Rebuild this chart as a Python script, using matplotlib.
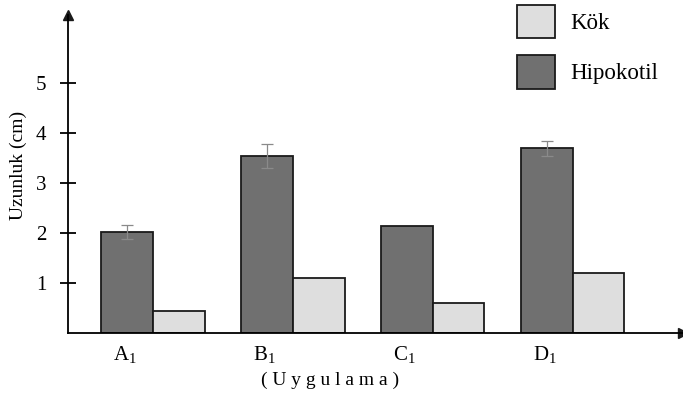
import numpy as np
import matplotlib
matplotlib.use("Agg")
import matplotlib.pyplot as plt
from matplotlib.patches import Patch

plt.rcParams['font.family'] = ['Liberation Serif', 'DejaVu Serif']
plt.rcParams['mathtext.fontset'] = 'custom'
plt.rcParams['mathtext.rm'] = 'Liberation Serif'

groups = [r'A$_\mathrm{1}$', r'B$_\mathrm{1}$', r'C$_\mathrm{1}$', r'D$_\mathrm{1}$']
hipokotil = [2.02, 3.55, 2.15, 3.70]
hipokotil_err = [0.14, 0.24, 0.0, 0.15]
kok = [0.45, 1.10, 0.60, 1.20]

dark = '#707070'
light = '#dedede'

fig = plt.figure(figsize=(6.83, 3.99), dpi=100)
ax = fig.add_axes([0.0996, 0.165, 0.9004, 0.797])

x = np.arange(len(groups))
w = 0.37
ax.bar(x - w / 2, hipokotil, w, color=dark, edgecolor='#1a1a1a', linewidth=1.3,
       label='Hipokotil', zorder=2)
ax.bar(x + w / 2, kok, w, color=light, edgecolor='#1a1a1a', linewidth=1.3,
       label='Kök', zorder=2)
err = np.array(hipokotil_err)
mask = err > 0
ax.errorbar((x - w / 2)[mask], np.array(hipokotil)[mask], yerr=err[mask],
            fmt='none', ecolor='#8a8a8a', elinewidth=0.9, capsize=4, capthick=0.9, zorder=3)

ax.set_xlim(-0.607, 3.79)
ax.set_ylim(0, 6.36)
ax.spines['top'].set_visible(False)
ax.spines['right'].set_visible(False)
ax.spines['left'].set_linewidth(1.3)
ax.spines['bottom'].set_linewidth(1.3)
ax.plot(1, 0, '>', color='#1a1a1a', markersize=7, transform=ax.transAxes, clip_on=False)
ax.plot(0, 1, '^', color='#1a1a1a', markersize=7, transform=ax.transAxes, clip_on=False)

ax.set_yticks([1, 2, 3, 4, 5])
ax.tick_params(axis='y', direction='inout', length=11, width=1.3, labelsize=15, pad=10)
ax.set_xticks(x - 0.2)
ax.set_xticklabels(groups, fontsize=15)
ax.tick_params(axis='x', length=0, pad=8)

ax.set_ylabel('Uzunluk (cm)', fontsize=14)
ax.yaxis.set_label_coords(-0.066, 0.528)
ax.set_xlabel('( U y g u l a m a )', fontsize=14)
ax.xaxis.set_label_coords(0.426, -0.12)

handles = [Patch(facecolor=light, edgecolor='#1a1a1a', linewidth=1.3, label='Kök'),
           Patch(facecolor=dark, edgecolor='#1a1a1a', linewidth=1.3, label='Hipokotil')]
fig.legend(handles=handles, loc='upper left', bbox_to_anchor=(517 / 683, 1 - 5 / 399),
           frameon=False, fontsize=16.5, handlelength=1.66, handleheight=1.85,
           labelspacing=0.75, handletextpad=0.65, borderpad=0, borderaxespad=0)

fig.savefig('out.png', dpi=100)
